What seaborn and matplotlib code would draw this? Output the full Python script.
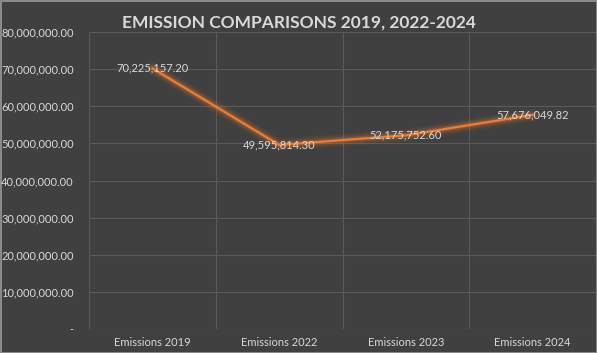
import pandas as pd
import matplotlib.pyplot as plt
import seaborn as sns
from matplotlib.ticker import FuncFormatter

# values
categories = ['Emissions 2019', 'Emissions 2022', 'Emissions 2023', 'Emissions 2024']
emissions = [70225157.20, 49595814.30, 52175752.60, 57676049.82]
yticks = [0, 10000000, 20000000, 30000000, 40000000, 50000000, 60000000, 70000000, 80000000]

df = pd.DataFrame({'pos': range(len(categories)), 'Emissions': emissions})

bg = '#404040'
txt = '#d9d9d9'
orange = '#ED7D31'

sns.set_style('dark')
plt.rcParams['font.family'] = ['Lato', 'DejaVu Sans']

fig = plt.figure(figsize=(5.97, 3.53), dpi=100, facecolor=bg,
                 edgecolor='#8a8a8a', linewidth=1)
ax = fig.add_axes([89 / 597, 24 / 353, 507 / 597, 297 / 353])
ax.set_facecolor(bg)

# soft glow under the line
for lw, a in [(9, 0.06), (7, 0.08), (5, 0.12), (3.5, 0.18)]:
    sns.lineplot(data=df, x='pos', y='Emissions', color=orange, linewidth=lw,
                 alpha=a, ax=ax, solid_capstyle='round')
sns.lineplot(data=df, x='pos', y='Emissions', color=orange, linewidth=1.6, ax=ax)

for x, v in zip(df['pos'], df['Emissions']):
    ax.text(x, v, f'{v:,.2f}', ha='center', va='center', color=txt, fontsize=8)

ax.set_xlim(-0.5, len(categories) - 0.5)
ax.set_ylim(0, 80000000)
ax.set_yticks(yticks)
ax.yaxis.set_major_formatter(FuncFormatter(lambda v, p: '-' if v == 0 else f'{v:,.2f}'))
ax.set_xticks(range(len(categories)))
ax.set_xticklabels(categories)
ax.set_xticks([i - 0.5 for i in range(len(categories) + 1)], minor=True)
ax.grid(False)
ax.grid(True, axis='y', which='major', color='#5a5a5a', linewidth=0.8)
ax.grid(True, axis='x', which='minor', color='#5a5a5a', linewidth=0.8)
ax.tick_params(axis='both', which='both', length=0, colors=txt, labelsize=8)
ax.tick_params(axis='y', pad=11)
ax.tick_params(axis='x', pad=6)
for s in ax.spines.values():
    s.set_visible(False)
ax.set_xlabel('')
ax.set_ylabel('')

fig.text(0.5, 0.935, 'EMISSION COMPARISONS 2019, 2022-2024', ha='center', va='center',
         color=txt, fontsize=12.5, fontweight='bold')

fig.savefig('out.png', dpi=100, facecolor=bg, edgecolor=fig.get_edgecolor())
